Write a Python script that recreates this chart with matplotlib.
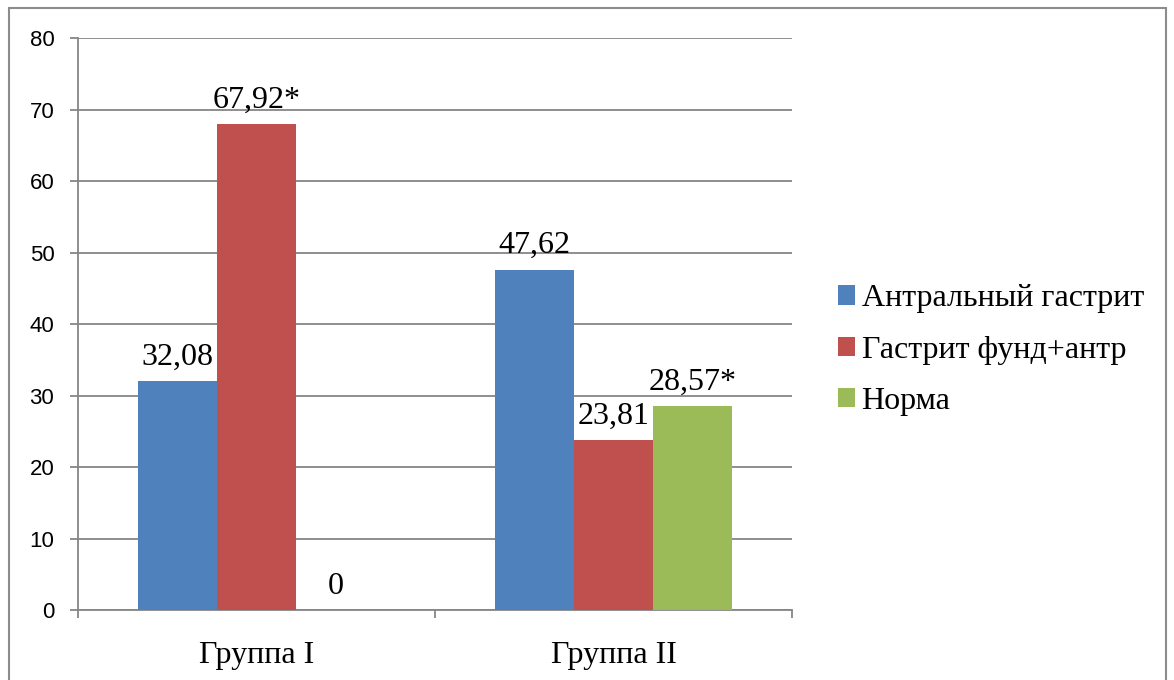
import matplotlib
matplotlib.use("Agg")
import matplotlib.pyplot as plt
from matplotlib.patches import Rectangle
import numpy as np

groups = ["Группа I", "Группа II"]
series_names = ["Антральный гастрит", "Гастрит фунд+антр", "Норма"]
antral = [32.08, 47.62]
fund_antr = [67.92, 23.81]
norma = [0.0, 28.57]
value_labels = [["32,08", "47,62"], ["67,92*", "23,81"], ["0", "28,57*"]]
y_ticks = [0, 10, 20, 30, 40, 50, 60, 70, 80]

colors = ["#4F81BD", "#C0504D", "#9BBB59"]
grid_col = "#868686"
serif = ["Liberation Serif", "DejaVu Serif"]
sans = ["Liberation Sans", "DejaVu Sans"]

fig = plt.figure(figsize=(11.74, 6.8), dpi=100)
ax = fig.add_axes([0.0664, 0.1029, 0.6082, 0.8412])

# outer frame of the chart area
fig.patches.append(Rectangle((9 / 1174, -0.05), (1166 - 9) / 1174, 1 - 8 / 680 + 0.05,
                             transform=fig.transFigure, fill=False,
                             edgecolor="#8c8c8c", linewidth=1.5))

x = np.arange(len(groups))
w = 0.2213
data = [antral, fund_antr, norma]
for i, (vals, col, name) in enumerate(zip(data, colors, series_names)):
    pos = x + (i - 1) * w
    ax.bar(pos, vals, width=w, color=col, label=name, zorder=3)
    for p, v, lab in zip(pos, vals, value_labels[i]):
        ax.text(p, v + 1.3, lab, ha="center", va="bottom",
                fontsize=23, family=serif, color="black")

ax.set_xlim(-0.5, 1.5)
ax.set_ylim(0, 80)
ax.set_yticks(y_ticks)
ax.set_yticklabels([str(t) for t in y_ticks], fontsize=16, family=sans)
ax.yaxis.grid(True, color=grid_col, linewidth=1.3, zorder=0)
ax.tick_params(axis="y", length=6, width=1.3, color=grid_col, pad=11)

ax.set_xticks([-0.5, 0.5, 1.5])
ax.set_xticklabels([])
ax.set_xticks(x, minor=True)
ax.set_xticklabels(groups, minor=True, fontsize=23, family=serif)
ax.tick_params(axis="x", which="major", length=6, width=1.3, color=grid_col)
ax.tick_params(axis="x", which="minor", length=0, pad=22)

for s in ["top", "right"]:
    ax.spines[s].set_visible(False)
for s in ["left", "bottom"]:
    ax.spines[s].set_color(grid_col)
    ax.spines[s].set_linewidth(1.3)

leg = fig.legend(loc="center left", bbox_to_anchor=(0.689, 0.485),
                 frameon=False, prop={"family": serif, "size": 23},
                 handlelength=0.55, handleheight=0.55, handletextpad=0.2,
                 labelspacing=0.7)

fig.savefig("out.png", dpi=100)
